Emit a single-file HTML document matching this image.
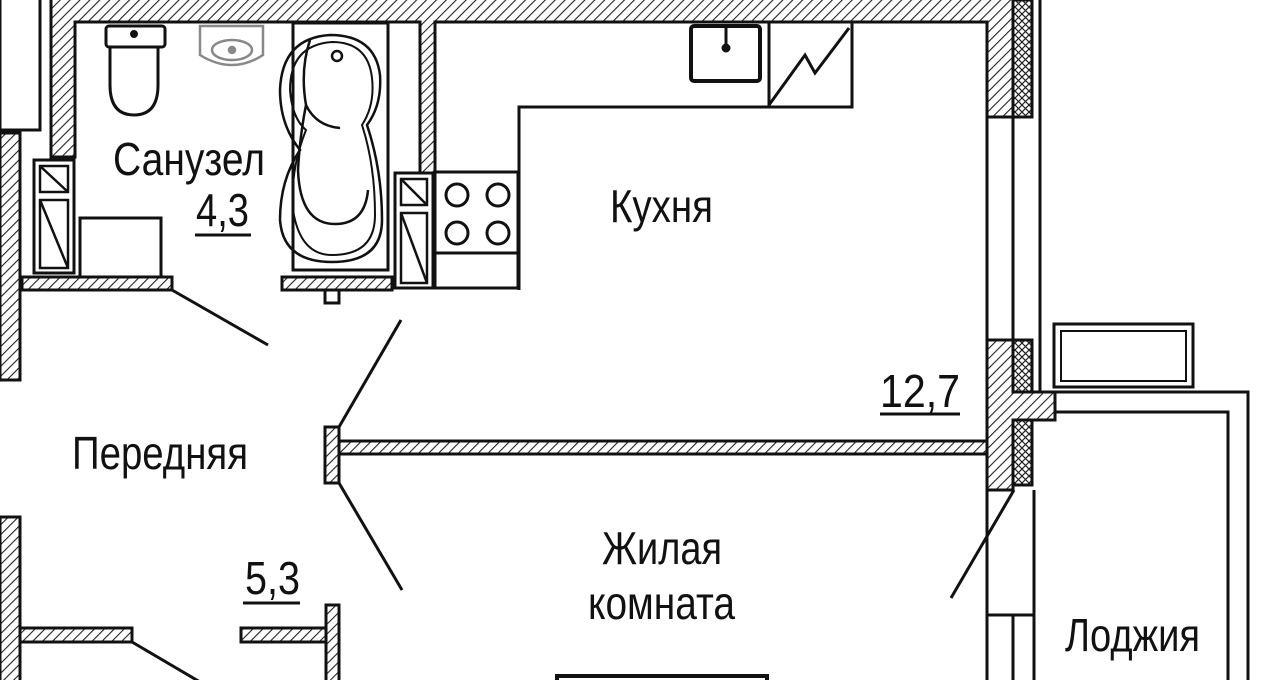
<!DOCTYPE html>
<html><head><meta charset="utf-8"><style>
html,body{margin:0;padding:0;background:#fff;}
svg{display:block;}
text{font-family:"Liberation Sans Narrow","Liberation Sans",sans-serif;fill:#111;}
</style></head><body>
<svg width="1280" height="680" viewBox="0 0 1280 680" xmlns="http://www.w3.org/2000/svg">
<defs>
<pattern id="h" width="7" height="7" patternUnits="userSpaceOnUse" patternTransform="rotate(45)">
<rect width="7" height="7" fill="#fff"/><line x1="0" y1="0" x2="0" y2="7" stroke="#222" stroke-width="2.2"/>
</pattern>
<pattern id="x" width="7" height="7" patternUnits="userSpaceOnUse">
<rect width="7" height="7" fill="#fff"/><path d="M0 0L7 7M7 0L0 7" stroke="#222" stroke-width="1.2"/>
</pattern>
</defs>
<g stroke="#111" stroke-width="3" fill="none">
<path d="M51 0 V157 H75 V22 H420 V173 H435 V22 H987 V117 H1013 V0" fill="url(#h)"/>
<path d="M0 0 V130 H40 V0" stroke-width="3"/>
<rect x="0" y="133" width="20" height="247" fill="url(#h)"/>
<rect x="0" y="517" width="20" height="170" fill="url(#h)"/>
<rect x="34" y="160" width="40" height="113" stroke-width="3"/>
<rect x="40" y="166" width="28" height="26" stroke-width="2.5"/><path d="M40 166L68 192" stroke-width="2.5"/>
<rect x="40" y="200" width="28" height="68" stroke-width="2.5"/><path d="M40 200L68 268" stroke-width="2.5"/>
<rect x="395" y="173" width="38" height="115"/>
<rect x="401" y="179" width="26" height="26" stroke-width="2.5"/><path d="M401 179L427 205" stroke-width="2.5"/>
<rect x="401" y="213" width="26" height="70" stroke-width="2.5"/><path d="M401 213L427 283" stroke-width="2.5"/>
<rect x="22" y="277" width="150" height="13" fill="url(#h)"/>
<rect x="282" y="277" width="110" height="13" fill="url(#h)"/>
<rect x="325" y="290" width="14" height="13"/>
<rect x="106" y="26" width="59" height="21" rx="3"/>
<circle cx="134" cy="34" r="2.5" fill="#111"/>
<path d="M110 47 V85 Q110 115 134 115 Q158 115 158 85 V47"/>
<g stroke="#888" stroke-width="2.5">
<path d="M200 26 H263 V55 Q232 75 200 55 Z"/>
<ellipse cx="232" cy="50" rx="20" ry="10"/>
<circle cx="232" cy="50" r="3" fill="#888"/>
</g>
<rect x="80" y="218" width="81" height="59"/>
<rect x="293" y="23" width="95" height="247"/>
<path d="M330 35 Q282 38 280 90 Q280 125 300 150 Q280 180 280 220 Q283 262 332 262 Q382 262 382 220 Q382 170 367 125 Q382 105 380 75 Q375 35 330 35 Z" stroke-width="2.5"/>
<path d="M332 42 Q290 45 290 90 Q292 118 306 130 Q290 170 293 210 Q300 255 332 255 Q375 255 375 215 Q375 165 362 125 Q375 105 372 78 Q368 42 332 42 Z" stroke-width="2"/>
<path d="M310 40 Q300 70 306 105 Q300 135 298 170 Q300 224 335 224 Q365 224 368 190" stroke-width="2.5"/>
<path d="M306 105 Q316 126 340 128" stroke-width="2.5"/>
<circle cx="337" cy="56" r="5" stroke-width="2.5"/>
<rect x="435" y="172" width="83" height="116"/>
<line x1="435" y1="253" x2="518" y2="253"/>
<circle cx="457" cy="195" r="11"/><circle cx="498" cy="195" r="11"/>
<circle cx="457" cy="233" r="11"/><circle cx="498" cy="233" r="11"/>
<path d="M519 290 V107 H852 V22"/>
<rect x="691" y="26" width="69" height="55" rx="3" stroke-width="4"/>
<path d="M726 26 V47" stroke-width="3"/><circle cx="726" cy="48" r="3" fill="#111"/>
<line x1="769" y1="22" x2="769" y2="107"/>
<path d="M769 105 L805 55 L815 73 L849 28" stroke-width="3"/>
<rect x="1013" y="0" width="19" height="117" fill="url(#x)"/>
<line x1="1040" y1="0" x2="1040" y2="117"/>
<path d="M987 117 V340 M1013 117 V340 M1040 117 V340"/>
<path d="M987 340 V490 H1013 V420 H1055 V392 H1013 V340 Z" fill="url(#h)"/>
<rect x="1013" y="340" width="19" height="52" fill="url(#x)"/>
<rect x="1013" y="420" width="19" height="65" fill="url(#x)"/>
<line x1="1040" y1="340" x2="1040" y2="392"/>
<path d="M987 490 V680 M1034 490 V680 M1013 615 V680 M987 615 H1034"/>
<path d="M1014 490 L951 598"/>
<rect x="1054" y="324" width="139" height="63"/>
<rect x="1061" y="331" width="125" height="50" stroke-width="2"/>
<path d="M1055 392 H1248 V680 M1055 412 H1228 V680"/>
<rect x="339" y="441" width="648" height="13" fill="url(#h)"/>
<rect x="325" y="427" width="14" height="56" fill="url(#h)"/>
<line x1="339" y1="427" x2="401" y2="320"/>
<line x1="339" y1="483" x2="402" y2="590"/>
<line x1="172" y1="290" x2="268" y2="345"/>
<rect x="20" y="628" width="112" height="14" fill="url(#h)"/>
<line x1="132" y1="642" x2="200" y2="682"/>
<rect x="241" y="628" width="86" height="14" fill="url(#h)"/>
<rect x="326" y="605" width="13" height="80" fill="url(#h)"/>
<rect x="557" y="676" width="210" height="10" stroke-width="4"/>
<line x1="195" y1="235" x2="251" y2="235"/>
<line x1="243" y1="603" x2="300" y2="603"/>
<line x1="880" y1="414" x2="960" y2="414"/>
</g>
<g font-size="46">
<text x="113" y="175" textLength="152" lengthAdjust="spacingAndGlyphs">Санузел</text>
<text x="196" y="226" textLength="53" lengthAdjust="spacingAndGlyphs">4,3</text>
<text x="610" y="222" textLength="103" lengthAdjust="spacingAndGlyphs">Кухня</text>
<text x="880" y="407" textLength="80" lengthAdjust="spacingAndGlyphs">12,7</text>
<text x="72" y="469" textLength="176" lengthAdjust="spacingAndGlyphs">Передняя</text>
<text x="245" y="594" textLength="55" lengthAdjust="spacingAndGlyphs">5,3</text>
<text x="602" y="564" textLength="120" lengthAdjust="spacingAndGlyphs">Жилая</text>
<text x="588" y="619" textLength="147" lengthAdjust="spacingAndGlyphs">комната</text>
<text x="1065" y="651" textLength="135" lengthAdjust="spacingAndGlyphs">Лоджия</text>
</g>
</svg>
</body></html>
